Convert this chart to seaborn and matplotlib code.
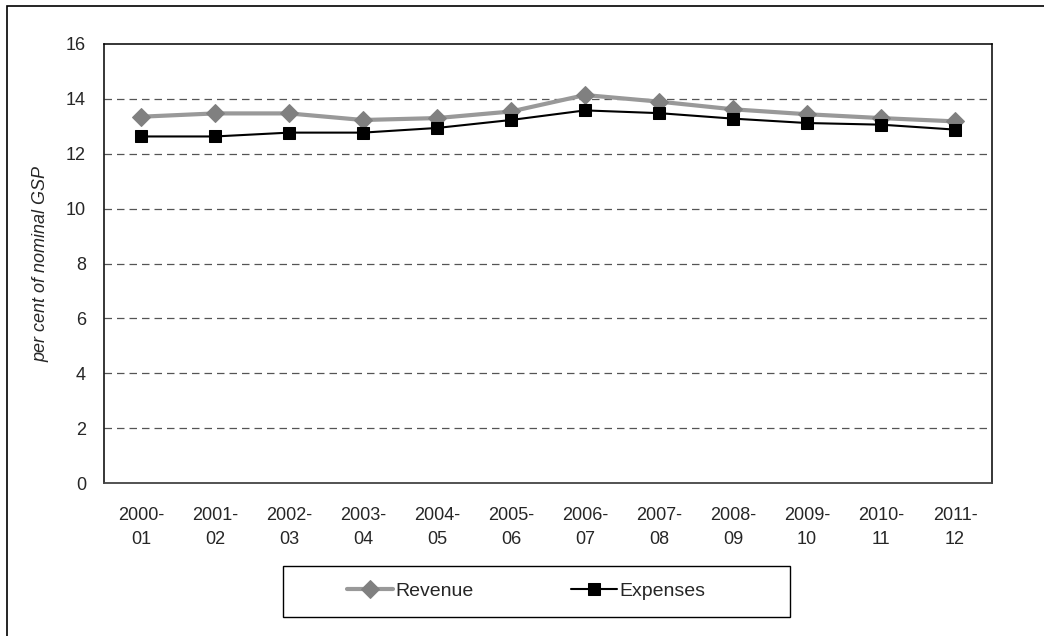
import matplotlib
matplotlib.use("Agg")
import matplotlib.pyplot as plt
import seaborn as sns
import pandas as pd
import numpy as np
from matplotlib.patches import Rectangle

# ── data ─────────────────────────────────────────────────────────────────────
years = ["2000-\n01", "2001-\n02", "2002-\n03", "2003-\n04", "2004-\n05", "2005-\n06",
         "2006-\n07", "2007-\n08", "2008-\n09", "2009-\n10", "2010-\n11", "2011-\n12"]
revenue = [13.35, 13.47, 13.47, 13.23, 13.30, 13.54, 14.14, 13.90, 13.62, 13.44, 13.30, 13.18]
expenses = [12.63, 12.63, 12.77, 12.77, 12.94, 13.23, 13.58, 13.48, 13.28, 13.12, 13.06, 12.88]
y_ticks = [0, 2, 4, 6, 8, 10, 12, 14, 16]

sns.set_style("white")
plt.rcParams["font.family"] = ["Liberation Sans", "DejaVu Sans"]
FS = 13

df = pd.DataFrame({
    "pos": list(range(len(years))) * 2,
    "value": revenue + expenses,
    "series": ["Revenue"] * len(years) + ["Expenses"] * len(years),
})

fig = plt.figure(figsize=(10.44, 6.36), dpi=100)
ax = fig.add_axes([104 / 1044, 1 - 483 / 636, (992 - 104) / 1044, (483 - 44) / 636])

# outer frame (partly cut off like the original)
fig.patches.append(Rectangle((7 / 1044, -0.05), 1.2, 1 - 6 / 636 + 0.05,
                             transform=fig.transFigure, fill=False,
                             edgecolor="black", linewidth=1.2))
# legend box
fig.patches.append(Rectangle((283 / 1044, 1 - 617 / 636), (790 - 283) / 1044, 51 / 636,
                             transform=fig.transFigure, fill=False,
                             edgecolor="black", linewidth=1.0))

sns.lineplot(data=df[df.series == "Revenue"], x="pos", y="value", ax=ax,
             color="#999999", linewidth=3, marker="D", markersize=9,
             markerfacecolor="#808080", markeredgecolor="#808080", label="Revenue")
sns.lineplot(data=df[df.series == "Expenses"], x="pos", y="value", ax=ax,
             color="black", linewidth=1.5, marker="s", markersize=8,
             markerfacecolor="black", markeredgecolor="black", label="Expenses")

ax.set_xlim(-0.5, len(years) - 0.5)
ax.set_ylim(0, 16)
ax.set_yticks(y_ticks)
ax.set_xticks(range(len(years)))
ax.set_xticklabels(years, fontsize=FS, linespacing=1.6)
ax.set_xticks(np.arange(-0.5, len(years), 1), minor=True)
ax.tick_params(axis="x", which="major", length=0, pad=17)
ax.tick_params(axis="x", which="minor", length=6, width=1, color="#444444", direction="out")
ax.tick_params(axis="y", length=7, width=1, color="#444444", direction="out", labelsize=FS, pad=6)
ax.set_xlabel("")
ax.set_ylabel("per cent of nominal GSP", fontsize=FS, style="italic", labelpad=12)

for v in y_ticks[1:-1]:
    ax.axhline(v, color="#555555", linestyle=(0, (6, 4)), linewidth=0.9, zorder=0)

for side in ["left", "top", "right"]:
    ax.spines[side].set_color("black")
    ax.spines[side].set_linewidth(1.1)
ax.spines["bottom"].set_color("#444444")
ax.spines["bottom"].set_linewidth(1.3)

leg = ax.legend(loc="center", bbox_to_anchor=(526 / 1044, 1 - 591 / 636),
                bbox_transform=fig.transFigure, ncol=2, frameon=False,
                fontsize=14, handlelength=2.4, columnspacing=5.0,
                handletextpad=0.1)

fig.savefig("out.png", dpi=100)
